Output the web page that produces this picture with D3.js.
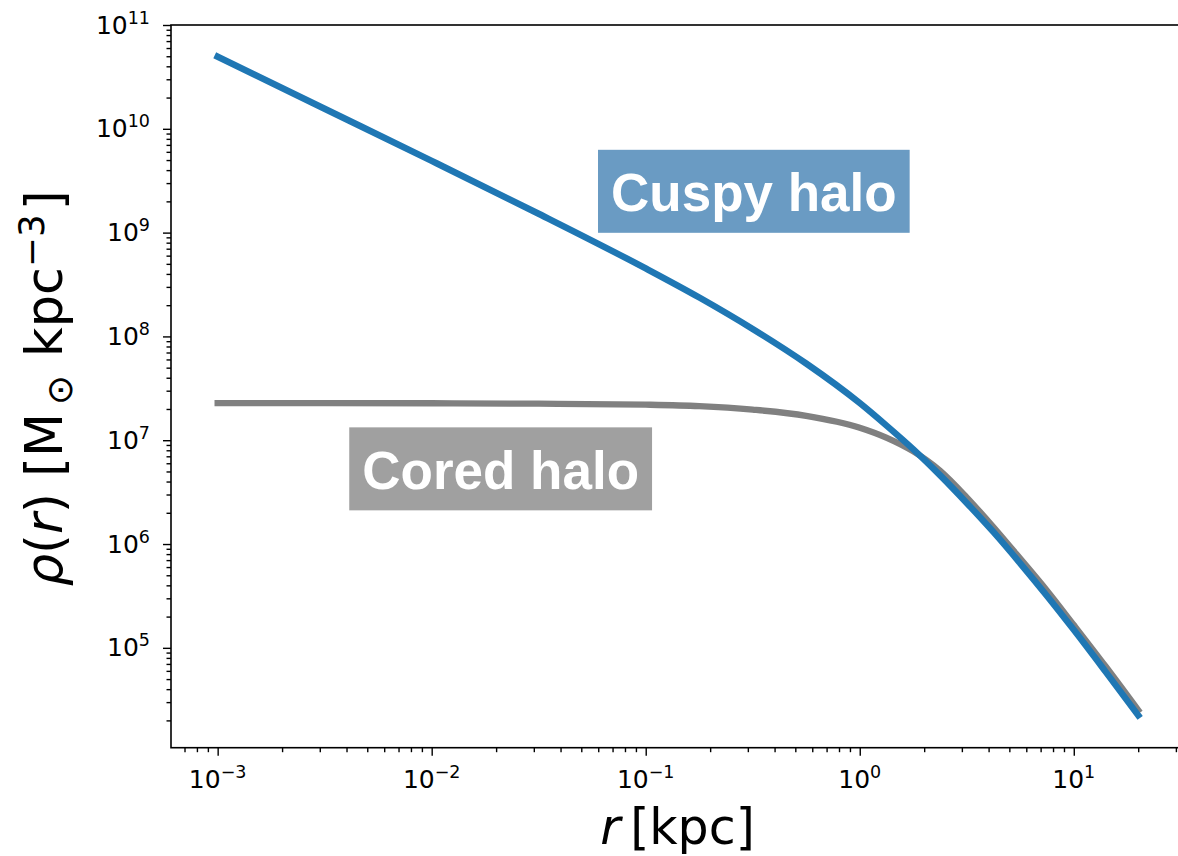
<!DOCTYPE html>
<html>
<head>
<meta charset="utf-8">
<script src="https://cdn.jsdelivr.net/npm/d3@7"></script>
<style>
body { margin: 0; background: #fff; }
svg { display: block; font-family: "DejaVu Sans", sans-serif; }
</style>
</head>
<body>
<svg width="1178" height="856"></svg>
<script>
var width = 1178;
var height = 856;

// radius samples in kpc, densities in Msun/kpc^3
var radius = [1e-3, 3.16e-3, 1e-2, 3.16e-2, 0.1, 0.178, 0.316, 0.562, 1, 1.33, 1.78, 2.37, 3.16, 4.22, 5.62, 7.5, 10, 14.1, 20];
var cuspy = [4.95e10, 1.56e10, 4.91e9, 1.52e9, 4.52e8, 2.37e8, 1.18e8, 5.48e7, 2.28e7, 1.39e7, 8.17e6, 4.61e6, 2.49e6, 1.30e6, 6.52e5, 3.16e5, 1.49e5, 5.87e4, 2.24e4];
var cored = [2.28e7, 2.28e7, 2.27e7, 2.25e7, 2.20e7, 2.13e7, 1.97e7, 1.72e7, 1.32e7, 1.06e7, 7.80e6, 5.10e6, 2.82e6, 1.45e6, 7.24e5, 3.55e5, 1.66e5, 6.61e4, 2.51e4];

var xTickExp = [-3, -2, -1, 0, 1];
var yTickExp = [5, 6, 7, 8, 9, 10, 11];

var labelText = ["Cuspy halo", "Cored halo"];
var labelAt = [[0.32, 2.5e9], [0.021, 5.3e6]]; // box centres, data coords
var labelFill = ["#6a9bc3", "#a0a0a0"];

var plotL = 171, plotR = 1184, plotT = 25, plotB = 747.7;

var x = d3.scaleLog().domain([Math.pow(10, -3.218), Math.pow(10, 1.515)]).range([plotL, plotR]);
var y = d3.scaleLog().domain([Math.pow(10, 4.038), 1e11]).range([plotB, plotT]);

var svg = d3.select('svg');
svg.append('rect').attr('width', width).attr('height', height).attr('fill', '#fff');

function isMajor(v) {
    var e = Math.log10(v);
    return Math.abs(e - Math.round(e)) < 1e-9;
}

// curves
var line = d3.line()
    .x(function(d) { return x(d[0]); })
    .y(function(d) { return y(d[1]); })
    .curve(d3.curveMonotoneX);

svg.append('path')
    .datum(d3.zip(radius, cored))
    .attr('d', line)
    .attr('fill', 'none')
    .attr('stroke', '#808080')
    .attr('stroke-width', 6.3)
    .attr('stroke-linecap', 'square');

svg.append('path')
    .datum(d3.zip(radius, cuspy))
    .attr('d', line)
    .attr('fill', 'none')
    .attr('stroke', '#1f77b4')
    .attr('stroke-width', 6.5)
    .attr('stroke-linecap', 'square');

// axes: minor then major ticks
svg.append('g').attr('transform', 'translate(0,' + plotB + ')')
    .call(d3.axisBottom(x).tickValues(x.ticks().filter(function(v) { return !isMajor(v); })).tickSize(4.5).tickFormat(''));
svg.append('g').attr('transform', 'translate(0,' + plotB + ')')
    .call(d3.axisBottom(x).tickValues(xTickExp.map(function(e) { return Math.pow(10, e); })).tickSize(8).tickFormat(''));
svg.append('g').attr('transform', 'translate(' + plotL + ',0)')
    .call(d3.axisLeft(y).tickValues(y.ticks().filter(function(v) { return !isMajor(v); })).tickSize(4.5).tickFormat(''));
svg.append('g').attr('transform', 'translate(' + plotL + ',0)')
    .call(d3.axisLeft(y).tickValues(yTickExp.map(function(e) { return Math.pow(10, e); })).tickSize(8).tickFormat(''));

svg.selectAll('.domain').remove();
svg.selectAll('.tick line').attr('stroke', '#000').attr('stroke-width', 1.4);

// spines
svg.append('rect')
    .attr('x', plotL).attr('y', plotT)
    .attr('width', plotR - plotL).attr('height', plotB - plotT)
    .attr('fill', 'none').attr('stroke', '#000').attr('stroke-width', 1.6);

// tick labels
xTickExp.forEach(function(e) {
    var t = svg.append('text')
        .attr('x', x(Math.pow(10, e)))
        .attr('y', plotB + 40.5)
        .attr('text-anchor', 'middle')
        .attr('font-size', 25)
        .attr('fill', '#000');
    t.append('tspan').text('10');
    t.append('tspan').attr('font-size', 17.5).attr('dy', -10).text(String(e).replace('-', '\u2212'));
});

yTickExp.forEach(function(e) {
    var t = svg.append('text')
        .attr('x', 150)
        .attr('y', y(Math.pow(10, e)) + 8.5)
        .attr('text-anchor', 'end')
        .attr('font-size', 25)
        .attr('fill', '#000');
    t.append('tspan').text('10');
    t.append('tspan').attr('font-size', 17.5).attr('dy', -10).text(String(e));
});

// axis labels
var xl = svg.append('text')
    .attr('x', (plotL + plotR) / 2)
    .attr('y', 844)
    .attr('text-anchor', 'middle')
    .attr('font-size', 49)
    .attr('fill', '#000');
xl.append('tspan').attr('font-style', 'italic').text('r');
xl.append('tspan').text('\u2009[kpc]');

var yl = svg.append('text')
    .attr('transform', 'translate(62,' + ((plotT + plotB) / 2 + 2) + ') rotate(-90)')
    .attr('text-anchor', 'middle')
    .attr('font-size', 51)
    .attr('fill', '#000');
yl.append('tspan').attr('font-style', 'italic').text('\u03c1');
yl.append('tspan').text('(');
yl.append('tspan').attr('font-style', 'italic').text('r');
yl.append('tspan').text(') [M');
yl.append('tspan').attr('font-size', 35.7).attr('dx', 8).attr('dy', 10).text('\u2299');
yl.append('tspan').attr('dx', 2).attr('dy', -10).text(' kpc');
yl.append('tspan').attr('font-size', 35.7).attr('dy', -18).text('\u22123');
yl.append('tspan').attr('dx', 4).attr('dy', 18).text(']');

// annotation boxes
labelText.forEach(function(s, i) {
    var cx = x(labelAt[i][0]);
    var cy = y(labelAt[i][1]);
    var g = svg.append('g');
    var r = g.append('rect').attr('fill', labelFill[i]);
    var t = g.append('text')
        .attr('x', cx)
        .attr('y', cy + 20)
        .attr('text-anchor', 'middle')
        .attr('font-family', '"Liberation Sans", Arial, sans-serif')
        .attr('font-weight', 'bold')
        .attr('font-size', 53)
        .attr('fill', '#fff')
        .text(s);
    var w = t.node().getComputedTextLength() + 26;
    r.attr('x', cx - w / 2).attr('y', cy - 41.5).attr('width', w).attr('height', 83);
});
</script>
</body>
</html>
